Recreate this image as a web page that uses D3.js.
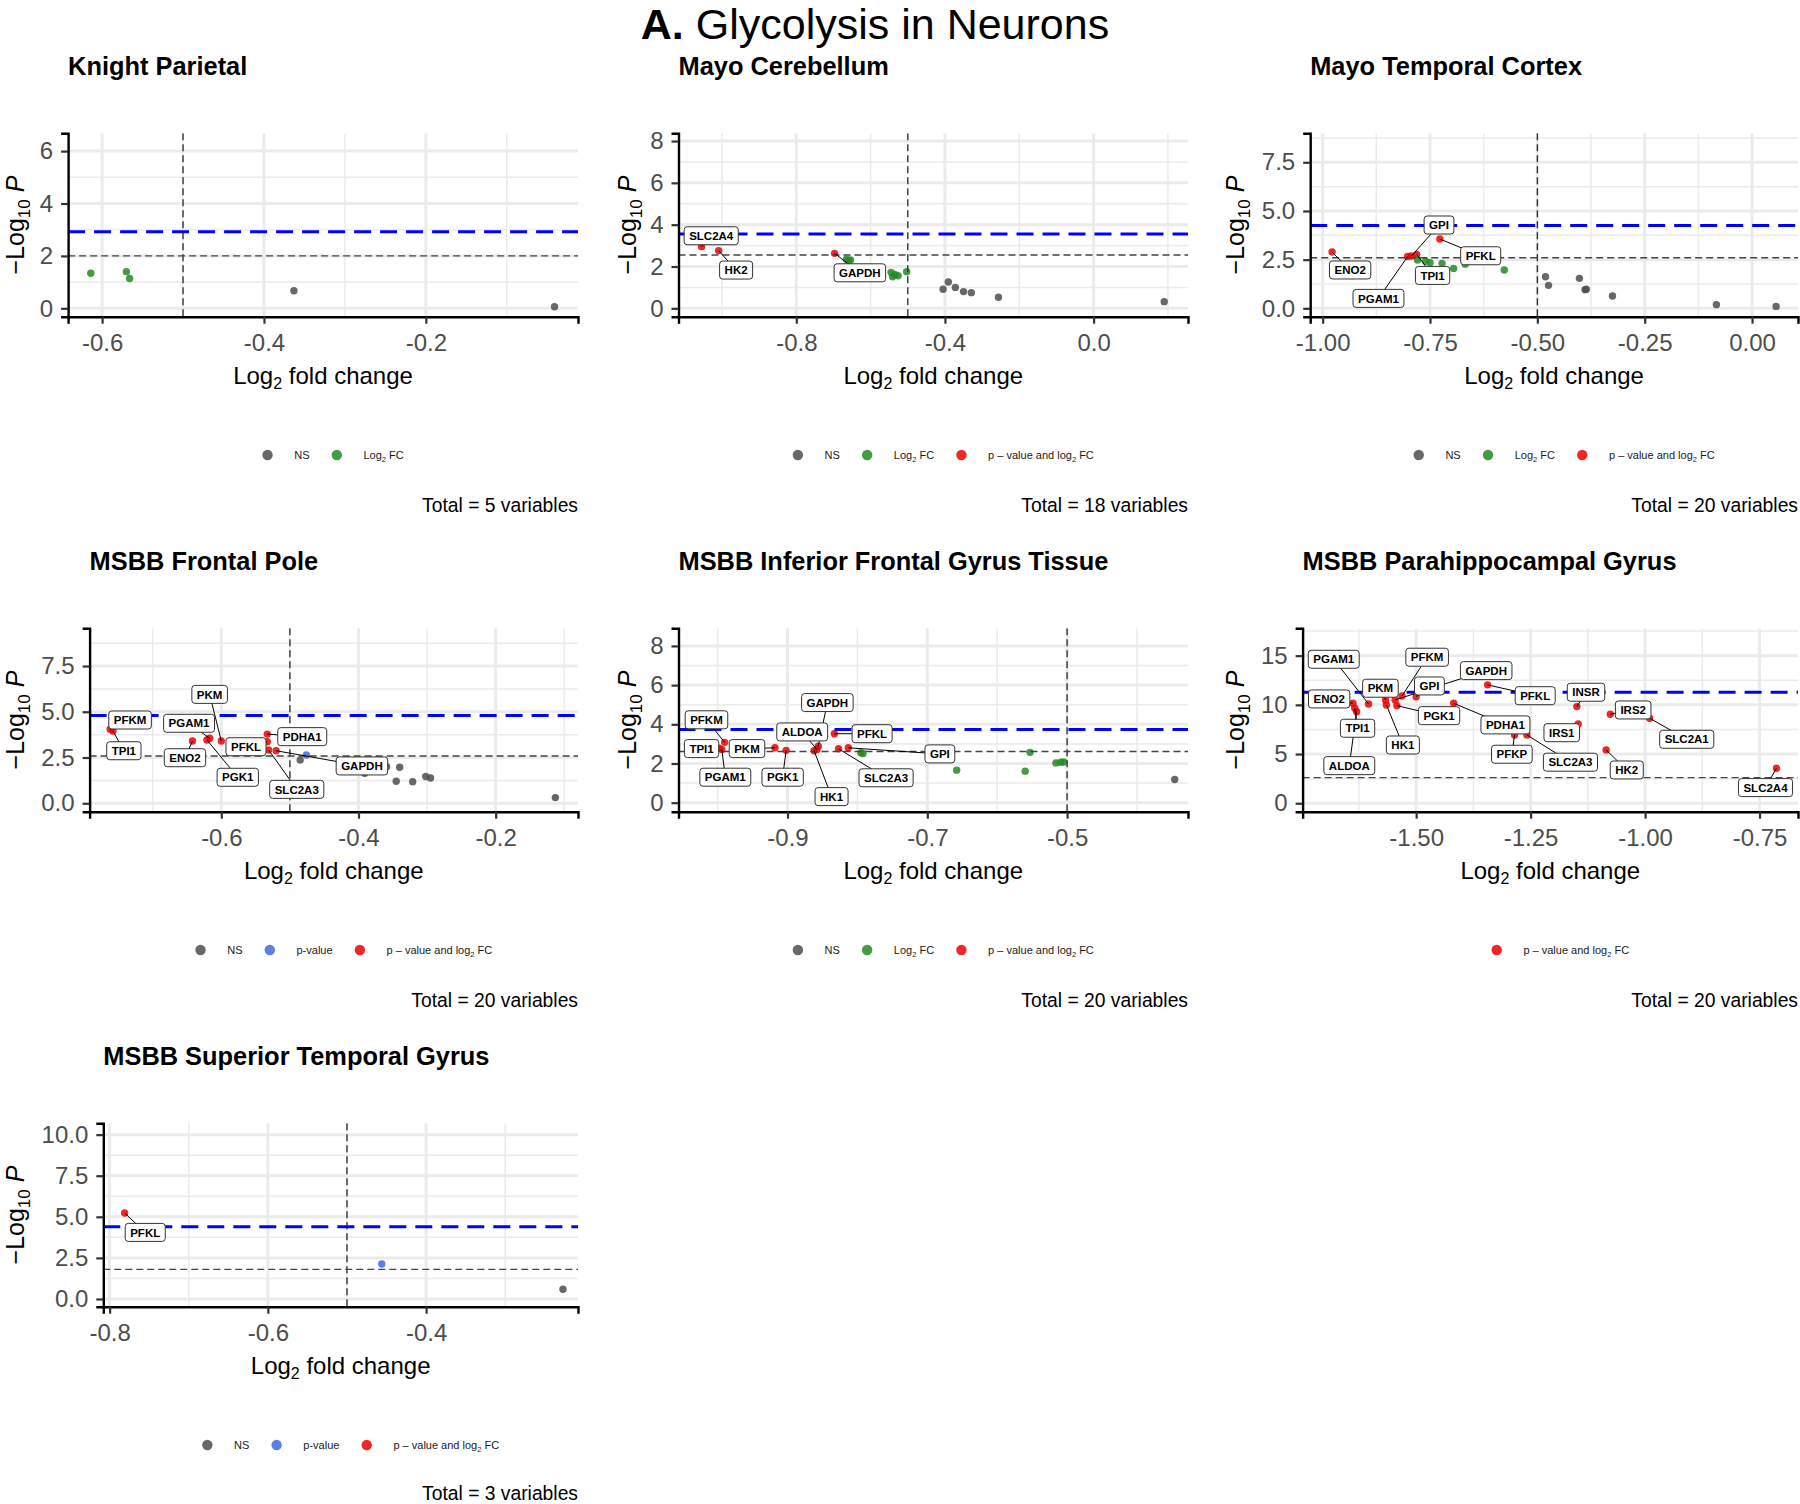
<!DOCTYPE html>
<html><head><meta charset="utf-8">
<script src="https://cdn.jsdelivr.net/npm/d3@7"></script>
<style>body{margin:0;background:#fff}</style>
</head><body>
<svg id="chart" width="1800" height="1504"></svg>
<script>
// ---------------- DATA ----------------
const panelTitles = ["Knight Parietal","Mayo Cerebellum","Mayo Temporal Cortex","MSBB Frontal Pole",
  "MSBB Inferior Frontal Gyrus Tissue","MSBB Parahippocampal Gyrus","MSBB Superior Temporal Gyrus"];
const panelTotals = [5,18,20,20,20,20,3];
const fcCutoff = -0.5;
const pCutoffLines = [2.0, 2.55, 2.60, 2.58, 2.61, 2.60, 1.80];
const adjustedLines = [2.92, 3.55, 4.26, 4.79, 3.73, 11.28, 4.40];
const xDomains = [[-0.642,-0.012],[-1.117,0.254],[-1.029,0.107],[-0.792,-0.080],[-1.056,-0.327],[-1.748,-0.666],[-0.808,-0.208]];
const yDomains = [[-0.32,6.68],[-0.40,8.37],[-0.43,8.99],[-0.46,9.56],[-0.46,8.90],[-0.86,17.78],[-0.47,10.69]];
const xTicks = [[-0.6,-0.4,-0.2],[-0.8,-0.4,0.0],[-1.0,-0.75,-0.5,-0.25,0.0],[-0.6,-0.4,-0.2],[-0.9,-0.7,-0.5],[-1.5,-1.25,-1.0,-0.75],[-0.8,-0.6,-0.4]];
const xTickLabels = [["-0.6","-0.4","-0.2"],["-0.8","-0.4","0.0"],["-1.00","-0.75","-0.50","-0.25","0.00"],["-0.6","-0.4","-0.2"],["-0.9","-0.7","-0.5"],["-1.50","-1.25","-1.00","-0.75"],["-0.8","-0.6","-0.4"]];
const yTicks = [[0,2,4,6],[0,2,4,6,8],[0,2.5,5,7.5],[0,2.5,5,7.5],[0,2,4,6,8],[0,5,10,15],[0,2.5,5,7.5,10]];
const yTickLabels = [["0","2","4","6"],["0","2","4","6","8"],["0.0","2.5","5.0","7.5"],["0.0","2.5","5.0","7.5"],["0","2","4","6","8"],["0","5","10","15"],["0.0","2.5","5.0","7.5","10.0"]];
const legendKeys = [["NS","FC"],["NS","FC","both"],["NS","FC","both"],["NS","P","both"],["NS","FC","both"],["both"],["NS","P","both"]];

// points: [log2FC, -log10 P, gene]
const knightPoints = [[-0.614,1.34],[-0.570,1.40],[-0.566,1.14],[-0.363,0.67],[-0.041,0.06]];
const knightLabels = [];

const mayoCerebellumPoints = [
  [-1.055,2.95,"SLC2A4"],[-1.009,2.76,"HK2"],[-0.697,2.63,"GAPDH"],
  [-0.665,2.35],[-0.660,2.28],[-0.654,2.31],[-0.545,1.72],[-0.541,1.51],[-0.535,1.62],[-0.526,1.56],[-0.503,1.75],
  [-0.405,0.91],[-0.391,1.26],[-0.372,1.00],[-0.350,0.80],[-0.329,0.75],[-0.256,0.53],[0.190,0.32]];
const mayoCerebellumLabels = [["SLC2A4",-1.029,3.47],["HK2",-0.962,1.83],["GAPDH",-0.629,1.70]];

const mayoTemporalPoints = [
  [-0.978,2.89,"ENO2"],[-0.802,2.66,"PGAM1"],[-0.793,2.69,"GPI"],[-0.781,2.77,"TPI1"],[-0.727,3.56,"PFKL"],
  [-0.779,2.48],[-0.760,2.42],[-0.750,2.34],[-0.722,2.31],[-0.695,2.05],[-0.668,2.27],[-0.577,1.97],
  [-0.481,1.62],[-0.474,1.18],[-0.402,1.54],[-0.389,0.96],[-0.386,0.98],[-0.325,0.63],[-0.083,0.19],[0.056,0.10]];
const mayoTemporalLabels = [["GPI",-0.729,4.28],["PFKL",-0.632,2.70],["ENO2",-0.936,1.97],["TPI1",-0.744,1.69],["PGAM1",-0.870,0.51]];

const frontalPolePoints = [
  [-0.762,4.05,"PFKM"],[-0.758,3.95,"TPI1"],[-0.642,3.40,"ENO2"],[-0.617,3.55,"PGAM1"],[-0.621,3.46,"PGK1"],
  [-0.600,3.40,"PKM"],[-0.533,3.78,"PDHA1"],[-0.533,3.36,"PFKL"],[-0.531,2.91,"SLC2A3"],[-0.520,2.87,"GAPDH"],
  [-0.476,2.64],[-0.485,2.36],[-0.391,1.64],[-0.359,2.00],[-0.340,1.97],[-0.345,1.20],[-0.321,1.18],[-0.302,1.46],[-0.295,1.38],[-0.113,0.31]];
const frontalPoleLabels = [["PKM",-0.617,5.95],["PFKM",-0.733,4.55],["PGAM1",-0.647,4.37],["PDHA1",-0.482,3.64],["PFKL",-0.564,3.09],
  ["TPI1",-0.742,2.87],["ENO2",-0.653,2.49],["GAPDH",-0.395,2.04],["PGK1",-0.576,1.42],["SLC2A3",-0.490,0.76]];

const inferiorFrontalPoints = [
  [-0.990,3.08,"PFKM"],[-0.998,2.78,"TPI1"],[-0.994,2.72,"PGAM1"],[-0.918,2.80,"PKM"],[-0.902,2.67,"PGK1"],
  [-0.862,2.65,"HK1"],[-0.858,2.72,"ALDOA"],[-0.856,2.88,"GAPDH"],[-0.833,3.52,"PFKL"],[-0.827,2.75,"SLC2A3"],[-0.813,2.80,"GPI"],
  [-0.795,2.55],[-0.792,2.51],[-0.658,1.66],[-0.560,1.61],[-0.553,2.57],[-0.516,2.03],[-0.509,2.07],[-0.505,2.08],[-0.346,1.18]];
const inferiorFrontalLabels = [["GAPDH",-0.843,5.11],["PFKM",-1.016,4.23],["ALDOA",-0.879,3.61],["PFKL",-0.779,3.52],["TPI1",-1.023,2.76],
  ["PKM",-0.958,2.76],["GPI",-0.682,2.49],["PGAM1",-0.989,1.30],["PGK1",-0.907,1.30],["SLC2A3",-0.759,1.27],["HK1",-0.837,0.31]];

const parahippocampalPoints = [
  [-1.638,10.16,"ENO2"],[-1.634,9.65,"TPI1"],[-1.630,9.31,"ALDOA"],[-1.604,10.09,"PGAM1"],[-1.567,10.50,"PKM"],
  [-1.565,9.99,"HK1"],[-1.546,10.50,"GAPDH"],[-1.542,9.92,"PGK1"],[-1.531,10.90,"PFKM"],[-1.500,10.83,"GPI"],
  [-1.418,10.16,"PDHA1"],[-1.344,12.03,"PFKL"],[-1.149,9.82,"INSR"],[-1.146,8.06,"IRS1"],[-1.076,9.04,"IRS2"],
  [-0.990,8.64,"SLC2A1"],[-1.285,6.94,"PFKP"],[-1.258,6.94,"SLC2A3"],[-1.085,5.42,"HK2"],[-0.713,3.56,"SLC2A4"]];
const parahippocampalLabels = [["PGAM1",-1.680,14.63],["PFKM",-1.476,14.84],["GAPDH",-1.347,13.48],["PKM",-1.578,11.69],["GPI",-1.471,11.92],
  ["ENO2",-1.690,10.60],["PFKL",-1.240,10.93],["INSR",-1.129,11.28],["IRS2",-1.026,9.48],["PGK1",-1.450,8.90],["TPI1",-1.628,7.62],
  ["PDHA1",-1.305,7.96],["IRS1",-1.182,7.17],["SLC2A1",-0.909,6.50],["HK1",-1.529,5.92],["PFKP",-1.291,4.98],["SLC2A3",-1.163,4.17],
  ["ALDOA",-1.646,3.82],["HK2",-1.040,3.38],["SLC2A4",-0.737,1.59]];

const superiorTemporalPoints = [[-0.781,5.23,"PFKL"],[-0.456,2.13],[-0.227,0.59]];
const superiorTemporalLabels = [["PFKL",-0.755,4.05]];

const panelPoints = [knightPoints,mayoCerebellumPoints,mayoTemporalPoints,frontalPolePoints,inferiorFrontalPoints,parahippocampalPoints,superiorTemporalPoints];
const panelLabels = [knightLabels,mayoCerebellumLabels,mayoTemporalLabels,frontalPoleLabels,inferiorFrontalLabels,parahippocampalLabels,superiorTemporalLabels];

// ---------------- LAYOUT / STYLE ----------------
const FONT = "'Liberation Sans', Arial, Helvetica, sans-serif";
const layout = [
  {left:68.1, right:578, row:0, ytx:15},
  {left:678.5, right:1188, row:0, ytx:627},
  {left:1310.2, right:1798, row:0, ytx:1235},
  {left:89.6, right:578, row:1, ytx:15},
  {left:678.5, right:1188, row:1, ytx:627},
  {left:1302.6, right:1798, row:1, ytx:1235},
  {left:103.3, right:578, row:2, ytx:15}
];
const ROW = 495;
const colors = {NS:"rgba(77,77,77,0.85)", FC:"rgba(34,139,34,0.85)", P:"rgba(65,105,225,0.85)", both:"rgba(238,0,0,0.85)"};
const legendText = {NS:[["NS"]], FC:[["Log"],["2","sub"],[" FC"]], P:[["p-value"]], both:[["p \u2013 value and log"],["2","sub"],[" FC"]]};

function category(d, i){
  const sig = d[1] > pCutoffLines[i];
  const fc = d[0] < fcCutoff || d[0] > -fcCutoff;
  return sig ? (fc ? "both" : "P") : (fc ? "FC" : "NS");
}
function minorOf(ticks, dom){
  const step = ticks[1]-ticks[0], res = [];
  for (let k = -2; k < ticks.length + 2; k++){
    const v = ticks[0] + step*k - step/2;
    if (v >= dom[0] && v <= dom[1]) res.push(v);
  }
  return res;
}

const svg = d3.select("#chart").attr("font-family", FONT);
svg.append("rect").attr("width",1800).attr("height",1504).attr("fill","#fff");
const defs = svg.append("defs");

// Main title
const mt = svg.append("text").attr("x",875).attr("y",38.5).attr("text-anchor","middle").attr("font-size",43).attr("fill","#000");
mt.append("tspan").attr("font-weight","bold").text("A.");
mt.append("tspan").text(" Glycolysis in Neurons");

panelTitles.forEach((title, i) => {
  const L = layout[i];
  const top = 133.3 + ROW*L.row, bot = 316.7 + ROW*L.row;
  const x = d3.scaleLinear().domain(xDomains[i]).range([L.left, L.right]);
  const y = d3.scaleLinear().domain(yDomains[i]).range([bot, top]);
  const g = svg.append("g");

  // title
  g.append("text").attr("x", L.left).attr("y", 75.4 + ROW*L.row).attr("font-size",25.4).attr("font-weight","bold").attr("fill","#000").text(title);

  defs.append("clipPath").attr("id","clip"+i).append("rect")
    .attr("x",L.left).attr("y",top).attr("width",L.right-L.left).attr("height",bot-top);
  const pg = g.append("g").attr("clip-path",`url(#clip${i})`);

  // grid
  const xm = minorOf(xTicks[i], xDomains[i]), ym = minorOf(yTicks[i], yDomains[i]);
  pg.selectAll(null).data(xm).join("line").attr("x1",d=>x(d)).attr("x2",d=>x(d)).attr("y1",top).attr("y2",bot).attr("stroke","#ebebeb").attr("stroke-width",1.5);
  pg.selectAll(null).data(ym).join("line").attr("y1",d=>y(d)).attr("y2",d=>y(d)).attr("x1",L.left).attr("x2",L.right).attr("stroke","#ebebeb").attr("stroke-width",1.5);
  pg.selectAll(null).data(xTicks[i]).join("line").attr("x1",d=>x(d)).attr("x2",d=>x(d)).attr("y1",top).attr("y2",bot).attr("stroke","#ebebeb").attr("stroke-width",3);
  pg.selectAll(null).data(yTicks[i]).join("line").attr("y1",d=>y(d)).attr("y2",d=>y(d)).attr("x1",L.left).attr("x2",L.right).attr("stroke","#ebebeb").attr("stroke-width",3);

  // points
  pg.selectAll(null).data(panelPoints[i]).join("circle")
    .attr("cx",d=>x(d[0])).attr("cy",d=>y(d[1])).attr("r",3.7)
    .attr("fill",d=>colors[category(d,i)]);

  // cutoff lines
  [fcCutoff, -fcCutoff].forEach(v => {
    if (v > xDomains[i][0] && v < xDomains[i][1])
      pg.append("line").attr("x1",x(v)).attr("x2",x(v)).attr("y1",top).attr("y2",bot)
        .attr("stroke","#333").attr("stroke-width",1.4).attr("stroke-dasharray","7,4");
  });
  pg.append("line").attr("x1",L.left).attr("x2",L.right).attr("y1",y(pCutoffLines[i])).attr("y2",y(pCutoffLines[i]))
    .attr("stroke","#444").attr("stroke-width",1.4).attr("stroke-dasharray","7,4");
  pg.append("line").attr("x1",L.left).attr("x2",L.right).attr("y1",y(adjustedLines[i])).attr("y2",y(adjustedLines[i]))
    .attr("stroke","#0000ff").attr("stroke-width",3).attr("stroke-dasharray","17,9");

  // connectors + labels
  const labs = panelLabels[i];
  const conn = g.append("g");
  const boxes = g.append("g");
  labs.forEach(([gene, lx, ly]) => {
    const pt = panelPoints[i].find(d => d[2] === gene);
    const cx = x(lx), cy = y(ly);
    if (pt) conn.append("line").attr("x1",x(pt[0])).attr("y1",y(pt[1])).attr("x2",cx).attr("y2",cy)
      .attr("stroke","#000").attr("stroke-width",1);
    const bg = boxes.append("g");
    const rect = bg.append("rect");
    const t = bg.append("text").attr("x",cx).attr("y",cy).attr("dy","0.36em").attr("text-anchor","middle")
      .attr("font-size",11.5).attr("font-weight","bold").attr("fill","#000").text(gene);
    const w = t.node().getComputedTextLength() + 10, h = 18;
    rect.attr("x",cx-w/2).attr("y",cy-h/2).attr("width",w).attr("height",h).attr("rx",3)
      .attr("fill","#fff").attr("stroke","#333").attr("stroke-width",1);
  });

  // axes
  const xa = g.append("g").attr("transform",`translate(0,${bot})`)
    .call(d3.axisBottom(x).tickValues(xTicks[i]).tickFormat((d,j)=>xTickLabels[i][j]).tickSizeOuter(0).tickSize(7).tickPadding(10));
  const ya = g.append("g").attr("transform",`translate(${L.left},0)`)
    .call(d3.axisLeft(y).tickValues(yTicks[i]).tickFormat((d,j)=>yTickLabels[i][j]).tickSizeOuter(0).tickSize(7).tickPadding(8));
  [xa, ya].forEach(a => {
    a.attr("font-family",FONT).attr("font-size",24);
    a.select(".domain").attr("stroke","#000").attr("stroke-width",2.4);
    a.selectAll(".tick line").attr("stroke","#333").attr("stroke-width",2.2);
    a.selectAll(".tick text").attr("fill","#4d4d4d");
  });
  g.append("line").attr("x1",L.left).attr("x2",L.left).attr("y1",bot).attr("y2",bot+1.2).attr("stroke","#000").attr("stroke-width",2.4);

  // x title
  const xt = g.append("text").attr("x",(L.left+L.right)/2).attr("y",bot+67).attr("text-anchor","middle").attr("font-size",24).attr("fill","#000");
  xt.append("tspan").text("Log");
  xt.append("tspan").attr("font-size",16).attr("dy",5.6).text("2");
  xt.append("tspan").attr("dy",-5.6).text(" fold change");

  // y title
  const yt = g.append("text").attr("transform",`translate(${L.ytx+9},${(top+bot)/2}) rotate(-90)`)
    .attr("text-anchor","middle").attr("font-size",25).attr("fill","#000");
  yt.append("tspan").text("\u2212Log");
  yt.append("tspan").attr("font-size",17).attr("dy",6).text("10");
  yt.append("tspan").attr("dy",-6).text(" ");
  yt.append("tspan").attr("font-style","italic").text("P");

  // legend
  const lg = g.append("g");
  let cur = 0;
  legendKeys[i].forEach(k => {
    lg.append("circle").attr("cx",cur).attr("cy",0).attr("r",5.2).attr("fill",colors[k]);
    const t = lg.append("text").attr("x",cur+26.7).attr("y",4).attr("font-size",11).attr("fill","#1a1a1a");
    let afterSub = false;
    legendText[k].forEach(p => {
      if (p[1]==="sub") { t.append("tspan").attr("font-size",7.5).attr("dy",2.5).text(p[0]); afterSub = true; }
      else { const ts = t.append("tspan").text(p[0]); if (afterSub) { ts.attr("dy",-2.5); afterSub = false; } }
    });
    const w = t.node().getComputedTextLength();
    cur = cur + 26.7 + w + 27.3;
  });
  const total = cur - 27.3 + 5.2;
  const cxL = (L.left+L.right)/2 + 10;
  lg.attr("transform",`translate(${cxL - total/2 + 5.2},${455 + ROW*L.row})`);

  // caption
  g.append("text").attr("x",L.right).attr("y",Math.min(511.5 + ROW*L.row, 1499.5)).attr("text-anchor","end").attr("font-size",19.3).attr("fill","#000")
    .text(`Total = ${panelTotals[i]} variables`);
});
</script>
</body></html>
